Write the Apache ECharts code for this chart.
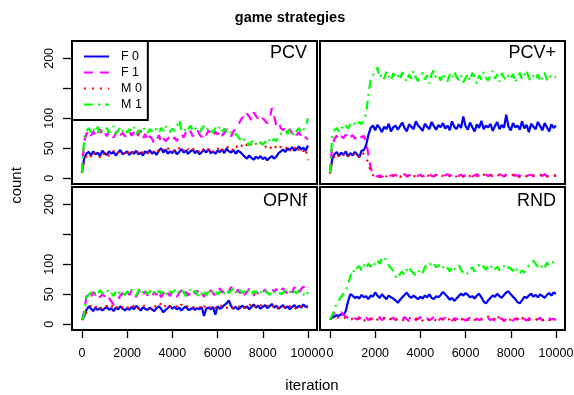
<!DOCTYPE html>
<html>
<head>
<meta charset="utf-8">
<script src="https://cdn.jsdelivr.net/npm/echarts@6/dist/echarts.min.js"></script>
<style>
  html, body { margin: 0; padding: 0; background: #fff; }
  #chart { width: 574px; height: 395px; }
</style>
</head>
<body>
<div id="chart"></div>
<script>
// Counts per strategy, sampled every 100 iterations (0 .. 10000)
const iterStep = 100;
const panelNames = ['PCV', 'PCV+', 'OPNf', 'RND'];
const strategyNames = ['F 0', 'F 1', 'M 0', 'M 1'];
const xTicks = [0, 2000, 4000, 6000, 8000, 10000];
const yTicks = [0, 50, 100, 150, 200];
const yTickLabels = [0, 50, 100, 200];

// PCV
const pcvF0 = [
  10,34,41,44,38,45,40,43,37,46,
  42,39,45,41,44,38,43,47,40,42,
  45,39,44,41,46,40,43,38,45,42,
  47,41,44,39,46,50,43,48,41,45,
  42,47,40,44,49,43,46,41,45,48,
  42,46,40,44,47,43,49,42,45,41,
  46,44,48,42,50,45,43,47,41,46,
  44,40,36,33,38,34,31,36,33,37,
  32,35,30,34,37,33,36,42,45,48,
  44,50,47,52,46,49,53,48,51,46,
  55];
const pcvF1 = [
  10,62,74,80,71,78,69,76,82,72,
  77,70,79,73,68,75,81,72,76,70,
  74,79,71,77,68,73,80,66,74,62,
  70,66,58,64,72,60,67,62,66,70,
  64,68,62,71,74,68,77,72,79,70,
  75,81,73,69,77,72,80,74,70,78,
  73,79,71,76,82,75,70,78,84,88,
  95,102,98,108,103,97,110,104,99,94,
  100,96,92,98,117,104,88,93,84,80,
  86,78,82,75,80,72,77,70,74,68,
  65];
const pcvM0 = [
  9,30,38,42,36,44,39,41,35,43,
  40,44,37,42,46,39,43,41,45,38,
  44,41,47,40,45,43,48,42,46,44,
  41,47,43,49,45,42,48,44,50,46,
  43,48,45,51,44,47,42,49,46,50,
  45,48,43,50,47,52,46,49,44,51,
  48,53,47,50,55,49,52,46,54,51,
  57,53,59,55,61,56,52,58,54,60,
  56,51,57,53,49,55,51,47,53,50,
  48,54,46,52,49,55,47,51,45,50,
  30];
const pcvM1 = [
  10,68,79,84,75,82,77,86,73,80,
  78,84,76,81,87,74,80,85,78,83,
  76,82,79,86,73,80,77,84,81,75,
  82,78,85,80,76,84,79,88,81,77,
  83,79,86,97,80,84,77,82,88,79,
  84,80,76,83,87,79,85,81,76,84,
  80,86,78,83,77,81,76,79,74,70,
  65,60,66,61,55,60,64,57,62,59,
  56,61,57,64,59,66,62,70,74,77,
  80,74,82,77,71,79,84,76,81,86,
  100];

// PCV+
const pcvPlusF0 = [
  9,32,40,44,37,43,39,45,36,42,
  38,44,40,35,46,47,55,72,84,88,
  80,89,84,77,86,82,91,78,85,88,
  81,87,93,84,78,90,86,82,95,88,
  84,79,91,86,82,94,87,81,89,85,
  92,83,88,80,95,86,82,90,84,103,
  87,81,93,85,78,90,84,96,82,88,
  85,91,79,87,94,82,89,84,106,86,
  80,92,85,88,81,95,83,89,77,91,
  86,82,94,87,80,92,85,78,90,84,
  88];
const pcvPlusF1 = [
  8,55,66,71,64,70,67,73,65,69,
  72,66,70,74,68,71,60,40,18,6,
  4,3,5,2,6,4,3,5,4,6,
  3,5,4,7,3,5,4,2,5,4,
  6,3,5,4,8,4,3,6,5,4,
  3,5,7,4,6,3,5,4,6,3,
  5,4,6,3,5,7,4,5,3,6,
  4,6,3,5,4,7,5,3,6,4,
  5,3,6,4,5,3,7,4,5,6,
  3,5,4,6,4,7,3,5,4,6,
  5];
const pcvPlusM0 = [
  8,30,38,42,36,41,39,44,37,40,
  43,38,41,36,44,40,35,25,12,5,
  3,5,2,4,6,3,4,2,5,3,
  4,2,5,3,4,6,3,5,2,4,
  3,5,4,2,6,3,5,4,3,5,
  4,3,6,4,2,5,3,6,4,3,
  5,2,4,6,3,4,5,3,6,4,
  3,5,4,3,6,4,2,5,4,3,
  4,6,3,5,2,4,6,3,5,4,
  5,3,4,6,3,5,4,2,5,4,
  4];
const pcvPlusM1 = [
  9,70,80,84,78,86,82,88,83,90,
  87,92,88,94,90,98,108,138,165,172,
  176,185,168,174,166,178,170,163,175,168,
  172,164,177,169,161,173,166,179,168,162,
  170,176,165,172,158,174,180,167,171,163,
  175,168,161,173,166,178,169,164,172,160,
  167,174,163,176,169,158,172,165,177,168,
  163,171,179,166,173,161,175,168,164,172,
  166,174,160,169,176,165,172,180,167,163,
  171,165,173,161,169,176,164,172,167,170,
  168];

// OPNf
const opnfF0 = [
  8,14,24,30,26,22,28,24,27,23,
  26,29,24,27,22,28,25,30,26,23,
  27,24,29,25,31,27,23,28,26,24,
  28,25,22,27,30,26,20,24,27,31,
  26,29,25,28,23,27,30,24,25,28,
  24,27,25,29,14,26,28,25,29,16,
  30,26,28,32,35,40,30,26,29,25,
  28,31,27,30,25,29,33,28,31,26,
  29,32,27,30,34,28,31,26,29,32,
  27,30,25,29,32,27,31,28,33,29,
  30];
const opnfF1 = [
  8,22,47,52,46,54,49,53,45,50,
  47,51,44,38,33,36,42,48,52,46,
  54,49,57,51,46,53,58,50,55,48,
  52,47,54,49,56,45,51,58,53,47,
  55,50,46,52,57,49,54,48,53,59,
  51,56,49,53,46,55,50,57,52,48,
  54,60,53,57,50,55,62,56,51,58,
  52,57,49,54,59,53,48,55,51,56,
  53,58,52,56,61,54,59,52,57,60,
  55,51,58,53,62,57,52,59,63,56,
  60];
const opnfM0 = [
  7,12,20,27,31,25,29,26,30,24,
  28,31,26,29,33,27,30,25,29,32,
  27,30,34,28,31,26,29,33,28,30,
  25,29,32,27,30,35,28,31,26,29,
  32,28,30,26,33,29,27,31,28,30,
  27,31,29,24,30,28,32,26,30,27,
  31,28,33,29,27,32,30,26,29,31,
  28,32,27,30,34,29,26,31,28,32,
  30,27,31,29,33,28,32,26,30,28,
  31,27,30,33,28,25,31,29,27,30,
  28];
const opnfM1 = [
  8,18,44,50,53,48,55,51,57,52,
  49,54,58,52,47,55,50,56,53,49,
  55,51,58,53,48,56,61,52,57,50,
  54,59,52,49,56,51,57,53,48,55,
  52,57,50,55,59,53,47,54,58,51,
  56,50,45,52,57,48,54,59,52,56,
  50,55,48,53,58,52,56,61,54,50,
  57,52,55,60,53,49,56,52,58,54,
  51,56,53,49,55,52,57,54,50,53,
  56,51,54,49,55,52,57,53,50,46,
  54];

// RND
const rndF0 = [
  8,11,13,15,14,17,16,22,38,50,
  48,44,46,43,49,45,47,42,48,46,
  53,48,44,50,46,42,48,45,43,40,
  36,41,45,49,53,47,44,48,45,42,
  46,43,48,45,50,44,42,47,45,49,
  54,50,46,41,44,39,43,47,51,48,
  52,49,45,47,43,48,51,45,38,35,
  40,44,48,46,51,47,44,49,53,55,
  50,46,42,37,35,40,46,44,48,51,
  46,49,45,50,47,44,49,52,48,53,
  51];
const rndF1 = [
  8,14,19,21,18,20,16,13,11,9,
  7,10,8,12,6,9,11,7,10,8,
  6,9,12,7,10,8,5,9,11,7,
  10,6,8,12,9,5,8,11,7,9,
  12,8,6,10,7,9,13,8,6,10,
  8,11,7,9,6,10,8,12,7,9,
  6,9,11,8,5,10,7,9,12,8,
  10,7,9,6,11,8,10,5,9,7,
  9,6,10,8,12,7,9,6,10,8,
  7,10,8,11,6,9,7,10,8,9,
  7];
const rndM0 = [
  8,11,13,12,10,11,9,12,10,8,
  9,7,11,8,10,6,9,12,8,7,
  10,8,6,9,11,7,10,8,5,9,
  7,10,8,6,9,11,8,7,10,6,
  9,6,10,8,7,11,9,6,8,10,
  8,10,7,9,12,8,6,10,9,7,
  10,7,9,11,8,6,10,8,7,9,
  13,9,7,10,16,8,11,7,9,6,
  8,10,7,9,6,11,8,10,7,9,
  9,7,10,8,6,9,11,7,8,6,
  8];
const rndM1 = [
  8,15,24,36,41,46,51,56,68,79,
  91,86,94,97,90,99,93,101,96,104,
  99,106,101,110,113,105,98,94,89,80,
  76,84,88,82,91,96,89,85,81,87,
  92,86,95,99,103,97,101,95,99,93,
  96,90,94,88,97,92,95,99,91,86,
  89,84,91,95,88,93,99,102,96,91,
  98,94,99,92,96,90,94,97,91,95,
  93,89,96,88,84,90,86,93,98,103,
  106,101,96,92,99,94,103,97,101,105,
  102];

const panelSeries = [
  [pcvF0, pcvF1, pcvM0, pcvM1],
  [pcvPlusF0, pcvPlusF1, pcvPlusM0, pcvPlusM1],
  [opnfF0, opnfF1, opnfM0, opnfM1],
  [rndF0, rndF1, rndM0, rndM1]
];

// Line look per strategy: blue solid, magenta dashed, red dotted, green dash-dot
const strategyColors = ['#0000ff', '#ff00ff', '#ff0000', '#00ff00'];
const strategyDash = ['solid', [9, 7], [2, 6], [9, 5, 2, 5]];

const FONT = '"Liberation Sans", Arial, Helvetica, sans-serif';

// 2 x 2 panel layout
const panelBoxes = [
  { left: 72,  top: 41 },
  { left: 320, top: 41 },
  { left: 72,  top: 187 },
  { left: 320, top: 187 }
];
const PANEL_W = 245, PANEL_H = 143;

const grids = panelBoxes.map(b => ({
  left: b.left, top: b.top, width: PANEL_W, height: PANEL_H,
  show: true, borderColor: '#000', borderWidth: 2, backgroundColor: 'transparent',
  containLabel: false, outerBoundsMode: 'none'
}));

const plainNumber = v => String(v);

const xAxes = panelBoxes.map((b, i) => {
  const bottomRow = i >= 2;
  return {
    type: 'value', gridIndex: i, min: -440, max: 10400, position: 'bottom',
    axisLine: { show: false, onZero: false },
    splitLine: { show: false },
    axisTick: {
      show: bottomRow, inside: false, length: 8,
      customValues: xTicks,
      lineStyle: { color: '#000', width: 1.3 }
    },
    axisLabel: {
      show: bottomRow, customValues: xTicks, margin: 17, hideOverlap: false,
      formatter: plainNumber,
      color: '#000', fontSize: 12.5, fontFamily: FONT
    }
  };
});

const yAxes = panelBoxes.map((b, i) => {
  const leftCol = i % 2 === 0;
  return {
    type: 'value', gridIndex: i, min: -9.5, max: 229, position: 'left',
    axisLine: { show: false, onZero: false },
    splitLine: { show: false },
    axisTick: {
      show: leftCol, inside: false, length: 9,
      customValues: yTicks,
      lineStyle: { color: '#000', width: 1.3 }
    },
    axisLabel: {
      show: leftCol, customValues: yTickLabels, rotate: 90, margin: 16, hideOverlap: false,
      formatter: plainNumber,
      color: '#000', fontSize: 12.5, fontFamily: FONT
    }
  };
});

const series = [];
panelSeries.forEach((group, p) => {
  group.forEach((values, s) => {
    series.push({
      type: 'line',
      name: strategyNames[s],
      xAxisIndex: p,
      yAxisIndex: p,
      data: values.map((v, k) => [k * iterStep, v]),
      symbol: 'none',
      silent: true,
      clip: true,
      lineStyle: { color: strategyColors[s], width: 2.2, type: strategyDash[s] },
      itemStyle: { color: strategyColors[s] },
      emphasis: { disabled: true }
    });
  });
});

const panelLabelPos = [
  { x: 307, y: 53.5 },
  { x: 556, y: 53.5 },
  { x: 307, y: 201 },
  { x: 556, y: 201 }
];

const graphics = [
  {
    type: 'text', x: 290, y: 18,
    style: { text: 'game strategies', font: 'bold 14.5px ' + FONT, fill: '#000',
             textAlign: 'center', textVerticalAlign: 'middle' }
  },
  {
    type: 'text', x: 17, y: 185.5, rotation: Math.PI / 2,
    style: { text: 'count', font: '15px ' + FONT, fill: '#000',
             textAlign: 'center', textVerticalAlign: 'middle' }
  },
  {
    type: 'text', x: 312, y: 386,
    style: { text: 'iteration', font: '15px ' + FONT, fill: '#000',
             textAlign: 'center', textVerticalAlign: 'middle' }
  }
].concat(panelNames.map((name, i) => ({
  type: 'text', x: panelLabelPos[i].x, y: panelLabelPos[i].y,
  style: { text: name, font: '18px ' + FONT, fill: '#000',
           textAlign: 'right', textVerticalAlign: 'middle' }
})));

const chart = echarts.init(document.getElementById('chart'), null, { renderer: 'canvas' });
chart.setOption({
  animation: false,
  backgroundColor: '#fff',
  grid: grids,
  xAxis: xAxes,
  yAxis: yAxes,
  legend: {
    data: strategyNames,
    orient: 'vertical',
    left: 72, top: 41,
    padding: [9, 6, 9, 11],
    itemGap: 3,
    itemWidth: 25,
    itemHeight: 13,
    borderColor: '#000',
    borderWidth: 2,
    borderRadius: 0,
    backgroundColor: '#fff',
    selectedMode: false,
    itemStyle: { opacity: 0 },
    lineStyle: { width: 2 },
    textStyle: { color: '#000', fontSize: 12.5, fontFamily: FONT, padding: [0, 0, 0, 7] }
  },
  graphic: graphics,
  series: series
});
</script>
</body>
</html>
